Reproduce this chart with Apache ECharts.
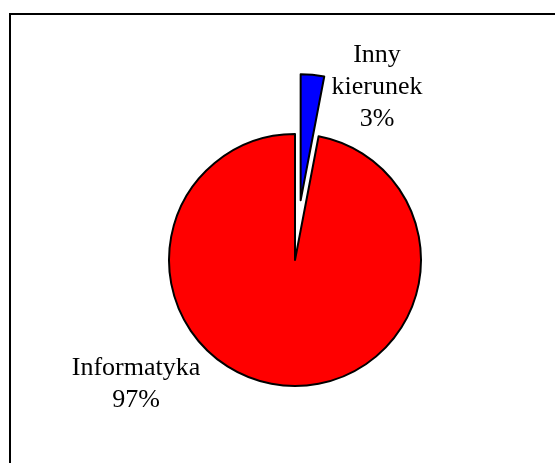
<!DOCTYPE html>
<html>
<head>
<meta charset="utf-8">
<script src="https://cdn.jsdelivr.net/npm/echarts@6/dist/echarts.min.js"></script>
<style>
html,body{margin:0;padding:0;background:#fff;}
#c{width:555px;height:463px;}
</style>
</head>
<body>
<div id="c"></div>
<script>
var categories = ['Inny kierunek', 'Informatyka'];
var values = [3, 97];
var colors = ['#0000FF', '#FF0000'];
var exploded = [true, false];

var labelPos = [[377, 87], [136, 384]];

var chart = echarts.init(document.getElementById('c'), null, {renderer: 'canvas'});
var sliceData = categories.map(function (c, i) {
  return {
    name: c,
    value: values[i],
    selected: exploded[i],
    itemStyle: {color: colors[i]},
    select: {itemStyle: {color: colors[i], borderColor: '#000', borderWidth: 2}}
  };
});
var labelData = categories.map(function (c, i) {
  return {name: c, value: values[i]};
});
chart.setOption({
  backgroundColor: '#fff',
  animation: false,
  graphic: [{
    type: 'rect',
    shape: {x: 10, y: 14, width: 600, height: 500},
    style: {fill: 'none', stroke: '#000', lineWidth: 2},
    silent: true
  }],
  series: [{
    type: 'pie',
    center: [295, 260],
    radius: 126,
    startAngle: 90,
    clockwise: true,
    selectedMode: 'single',
    selectedOffset: 60,
    emphasis: {disabled: true},
    itemStyle: {borderColor: '#000', borderWidth: 2},
    label: {show: false},
    labelLine: {show: false},
    data: sliceData
  }, {
    type: 'pie',
    center: [295, 260],
    radius: 126,
    startAngle: 90,
    clockwise: true,
    silent: true,
    z: 1,
    emphasis: {disabled: true},
    itemStyle: {color: 'rgba(0,0,0,0)', borderWidth: 0},
    label: {
      show: true,
      position: 'outside',
      fontFamily: 'Liberation Serif, Times New Roman, serif',
      fontSize: 26,
      lineHeight: 32,
      color: '#000',
      align: 'center',
      formatter: function (p) {
        return p.name.replace(' ', '\n') + '\n' + Math.round(p.percent) + '%';
      }
    },
    labelLine: {show: false},
    labelLayout: function (p) {
      var pos = labelPos[p.dataIndex];
      return {x: pos[0], y: pos[1], align: 'center', verticalAlign: 'middle'};
    },
    data: labelData
  }]
});
</script>
</body>
</html>
